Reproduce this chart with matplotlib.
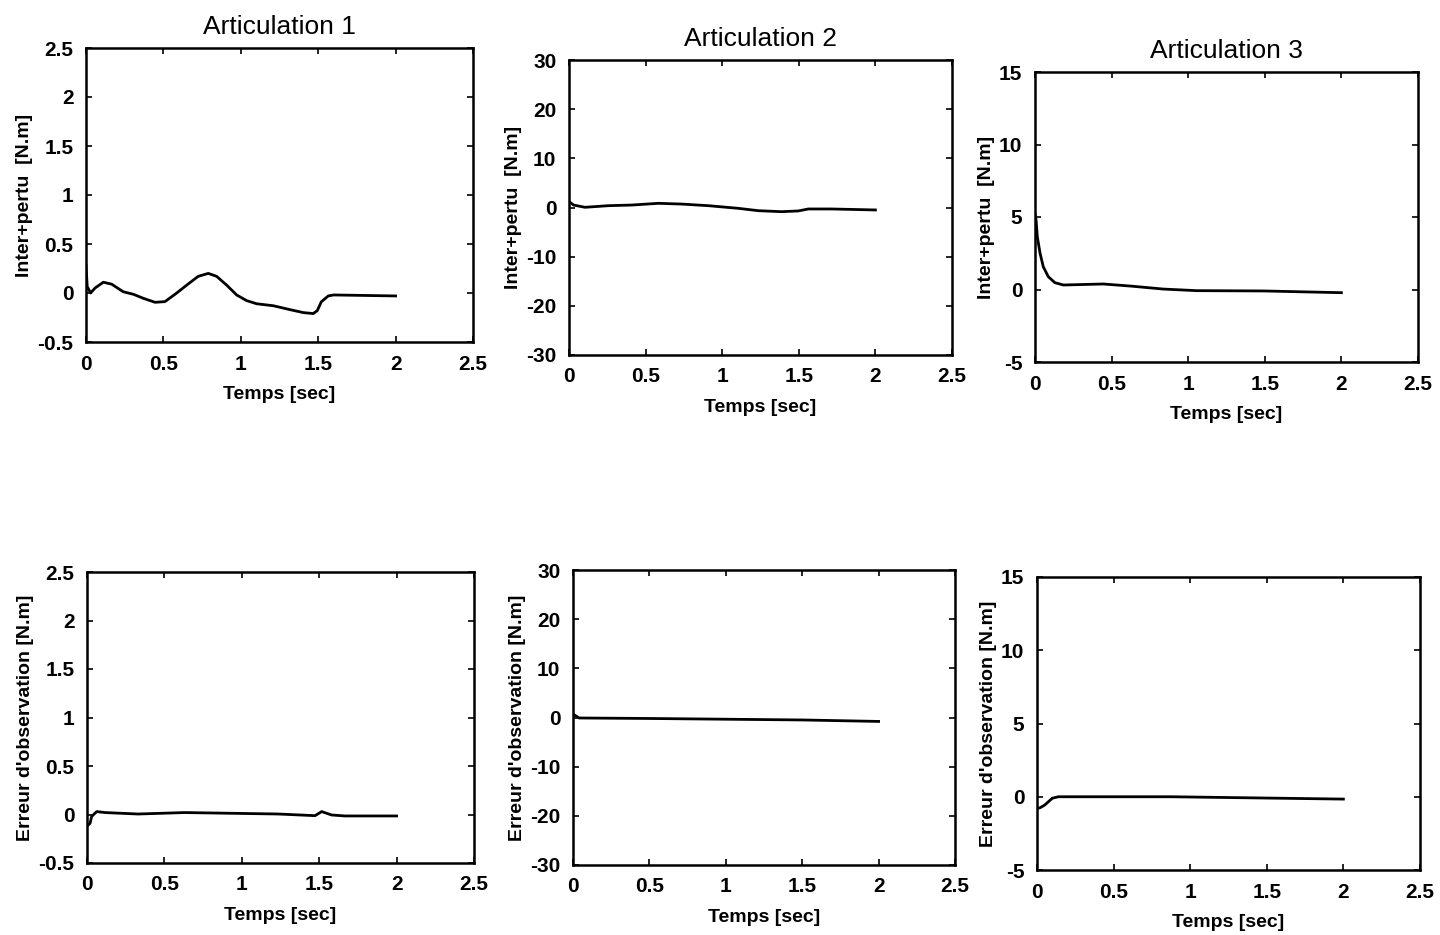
import matplotlib as mpl
mpl.use('Agg')
import matplotlib.pyplot as plt

plt.rcParams['font.family'] = ['Liberation Sans', 'DejaVu Sans']

# titles / labels
titles  = ['Articulation 1', 'Articulation 2', 'Articulation 3']
ylab_top = 'Inter+pertu  [N.m]'
ylab_bot = "Erreur d'observation [N.m]"
xlab    = 'Temps [sec]'

# y limits and ticks for each column
ylims   = [(-0.5, 2.5), (-30, 30), (-5, 15)]
yticks  = [[-0.5, 0, 0.5, 1, 1.5, 2, 2.5],
           [-30, -20, -10, 0, 10, 20, 30],
           [-5, 0, 5, 10, 15]]
xticks  = [0, 0.5, 1, 1.5, 2, 2.5]
xticklabels = ['0', '0.5', '1', '1.5', '2', '2.5']

# top row: Inter+pertu
t1 = [0.0, 0.008, 0.03, 0.058, 0.112, 0.166, 0.24, 0.306, 0.37, 0.446, 0.51, 0.586,
      0.65, 0.725, 0.79, 0.844, 0.909, 0.973, 1.038, 1.103, 1.21, 1.318, 1.404,
      1.468, 1.494, 1.52, 1.565, 1.6, 2.0]
v1 = [0.28, 0.065, 0.0, 0.05, 0.11, 0.09, 0.013, -0.013, -0.054, -0.095, -0.088, 0.0,
      0.08, 0.17, 0.2, 0.17, 0.08, -0.02, -0.078, -0.11, -0.13, -0.17, -0.2,
      -0.21, -0.18, -0.09, -0.03, -0.02, -0.03]
t2 = [0.0, 0.03, 0.104, 0.257, 0.41, 0.583, 0.735, 0.909, 1.105, 1.236, 1.388,
      1.497, 1.562, 1.715, 2.0]
v2 = [1.2, 0.5, 0.04, 0.37, 0.5, 0.85, 0.7, 0.37, -0.17, -0.65, -0.85,
      -0.7, -0.3, -0.3, -0.5]
t3 = [0.0, 0.007, 0.015, 0.033, 0.054, 0.087, 0.13, 0.185, 0.446, 0.62, 0.838,
      1.055, 1.49, 2.0]
v3 = [5.2, 4.8, 3.64, 2.5, 1.57, 0.88, 0.47, 0.31, 0.38, 0.24, 0.03,
      -0.08, -0.1, -0.22]

# bottom row: erreur d'observation
t4 = [0.0, 0.02, 0.03, 0.063, 0.116, 0.33, 0.63, 0.956, 1.236, 1.473, 1.516,
      1.58, 1.667, 2.0]
v4 = [-0.12, -0.09, -0.02, 0.03, 0.02, 0.005, 0.02, 0.012, 0.005, -0.012, 0.03,
      -0.005, -0.015, -0.015]
t5 = [0.0, 0.02, 0.04, 0.5, 1.0, 1.5, 2.0]
v5 = [0.7, 0.3, -0.1, -0.2, -0.35, -0.5, -0.8]
t6 = [0.0, 0.02, 0.05, 0.1, 0.14, 0.87, 2.0]
v6 = [-0.8, -0.75, -0.57, -0.1, 0.0, 0.0, -0.16]

series = [(t1, v1), (t2, v2), (t3, v3), (t4, v4), (t5, v5), (t6, v6)]

# axes boxes in pixels: left, right, top, bottom
W, H = 1440, 935
boxes = [(86, 473, 48, 342), (569, 952, 60, 355), (1035, 1418, 72, 362),
         (87, 474, 572, 863), (573, 955, 570, 865), (1037, 1420, 577, 870)]

fig = plt.figure(figsize=(W / 100, H / 100), dpi=100)

for k, (l, r, tp, b) in enumerate(boxes):
    col = k % 3
    ax = fig.add_axes([l / W, 1 - b / H, (r - l) / W, (b - tp) / H])
    t, v = series[k]
    ax.plot(t, v, color='k', lw=2.0, solid_joinstyle='round')
    ax.set_xlim(0, 2.5)
    ax.set_ylim(*ylims[col])
    ax.set_xticks(xticks)
    ax.set_xticklabels(xticklabels)
    ax.set_yticks(yticks[col])
    ax.set_yticklabels(['%g' % y for y in yticks[col]])
    ax.tick_params(direction='in', length=4, width=1.2, top=True, right=True,
                   labelsize=15, pad=9)
    for lb in ax.get_xticklabels() + ax.get_yticklabels():
        lb.set_fontweight('bold')
    for sp in ax.spines.values():
        sp.set_linewidth(1.8)
    ax.set_xlabel(xlab, fontsize=14, fontweight='bold', labelpad=9)
    if k < 3:
        ax.set_ylabel(ylab_top, fontsize=14, fontweight='bold', labelpad=3)
        ax.set_title(titles[col], fontsize=19, pad=10)
    else:
        ax.set_ylabel(ylab_bot, fontsize=14, fontweight='bold', labelpad=3)

plt.savefig('out.png', dpi=100, facecolor='white')
